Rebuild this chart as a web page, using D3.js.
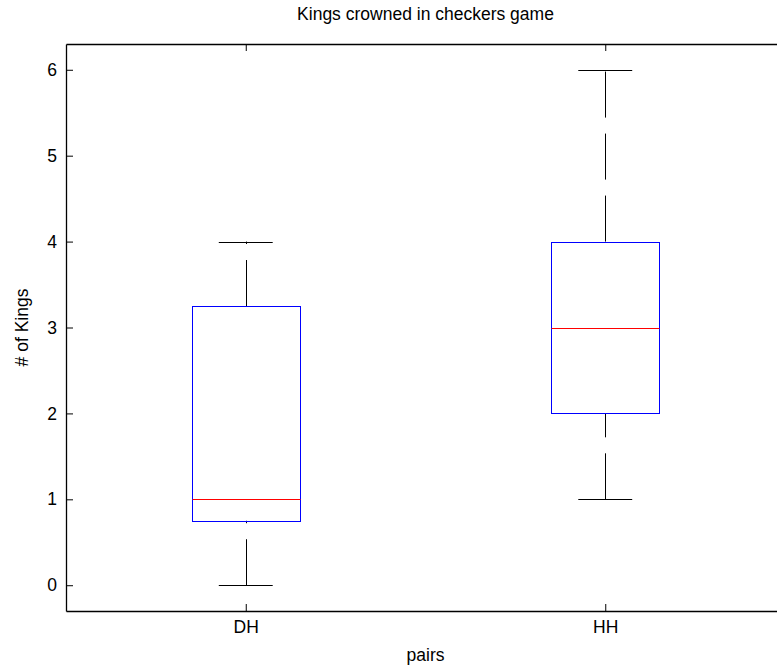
<!DOCTYPE html>
<html>
<head>
<meta charset="utf-8">
<script src="https://cdn.jsdelivr.net/npm/d3@7"></script>
<style>
  body { margin: 0; background: #fff; }
  text { font-family: "Liberation Sans", Arial, Helvetica, sans-serif; }
</style>
</head>
<body>
<div id="chart"></div>
<script>
var categories = ["DH", "HH"];
var lowerWhisker = [0, 1];
var q1 = [0.75, 2];
var medians = [1, 3];
var q3 = [3.25, 4];
var upperWhisker = [4, 6];
var yTicks = [0, 1, 2, 3, 4, 5, 6];

var width = 777, height = 669;
var plotLeft = 66, plotRight = 785, plotTop = 44, plotBottom = 611;
var fontSize = "17.5px";

var svg = d3.select("#chart").append("svg")
  .attr("width", width)
  .attr("height", height);

var x = d3.scaleLinear().domain([0.5, 2.5]).range([plotLeft, plotRight]);
var y = d3.scaleLinear().domain([-0.3, 6.3]).range([plotBottom, plotTop]);

var boxes = categories.map(function(c, i) {
  return { name: c, pos: i + 1, lo: lowerWhisker[i], q1: q1[i], med: medians[i], q3: q3[i], hi: upperWhisker[i] };
});

// whiskers (dashed, drawn from lower value upward)
var g = svg.append("g");
boxes.forEach(function(d) {
  var xc = Math.round(x(d.pos)) + 0.5;
  [[d.q3, d.hi], [d.lo, d.q1]].forEach(function(seg) {
    g.append("line")
      .attr("x1", xc).attr("x2", xc)
      .attr("y1", y(seg[0])).attr("y2", y(seg[1]))
      .attr("stroke", "#000")
      .attr("stroke-width", 1)
      .attr("stroke-dasharray", "46,16");
  });
  // caps
  [d.lo, d.hi].forEach(function(v) {
    g.append("line")
      .attr("x1", x(d.pos - 0.075)).attr("x2", x(d.pos + 0.075))
      .attr("y1", Math.round(y(v)) + 0.5).attr("y2", Math.round(y(v)) + 0.5)
      .attr("stroke", "#000");
  });
  // box
  g.append("rect")
    .attr("x", Math.round(x(d.pos - 0.15)) + 0.5)
    .attr("y", Math.round(y(d.q3)) + 0.5)
    .attr("width", Math.round(x(d.pos + 0.15)) - Math.round(x(d.pos - 0.15)))
    .attr("height", Math.round(y(d.q1)) - Math.round(y(d.q3)))
    .attr("fill", "none")
    .attr("stroke", "#0000ff");
  // median
  g.append("line")
    .attr("x1", Math.round(x(d.pos - 0.15)) + 0.5).attr("x2", Math.round(x(d.pos + 0.15)) + 0.5)
    .attr("y1", Math.round(y(d.med)) + 0.5).attr("y2", Math.round(y(d.med)) + 0.5)
    .attr("stroke", "#ff0000");
});

// axes
var yAxis = d3.axisLeft(y).tickValues(yTicks).tickSize(-7).tickPadding(9).tickSizeOuter(0)
  .tickFormat(d3.format("d"));
var yAxisR = d3.axisRight(y).tickValues(yTicks).tickSize(-7).tickFormat("").tickSizeOuter(0);
var xAxis = d3.axisBottom(x).tickValues([1, 2]).tickSize(-7).tickPadding(10).tickSizeOuter(0)
  .tickFormat(function(d) { return categories[d - 1]; });
var xAxisT = d3.axisTop(x).tickValues([1, 2]).tickSize(-7).tickFormat("").tickSizeOuter(0);

function styleAxis(sel) {
  sel.selectAll("path, line").attr("stroke", "#000");
  sel.select(".domain").attr("stroke-width", 1.3);
  sel.selectAll("text").attr("font-size", fontSize).attr("fill", "#000")
    .style("font-family", '"Liberation Sans", Arial, sans-serif');
}

svg.append("g").attr("transform", "translate(" + plotLeft + ",0)").call(yAxis).call(styleAxis);
svg.append("g").attr("transform", "translate(" + plotRight + ",0)").call(yAxisR).call(styleAxis);
svg.append("g").attr("transform", "translate(0," + plotBottom + ")").call(xAxis).call(styleAxis);
svg.append("g").attr("transform", "translate(0," + plotTop + ")").call(xAxisT).call(styleAxis);

// title and labels
var cx = (plotLeft + plotRight) / 2;
svg.append("text")
  .attr("x", cx).attr("y", 20)
  .attr("text-anchor", "middle")
  .attr("font-size", fontSize)
  .text("Kings crowned in checkers game");

svg.append("text")
  .attr("x", cx).attr("y", 661)
  .attr("text-anchor", "middle")
  .attr("font-size", fontSize)
  .text("pairs");

svg.append("text")
  .attr("transform", "translate(28," + ((plotTop + plotBottom) / 2) + ") rotate(-90)")
  .attr("text-anchor", "middle")
  .attr("font-size", fontSize)
  .text("# of Kings");
</script>
</body>
</html>
